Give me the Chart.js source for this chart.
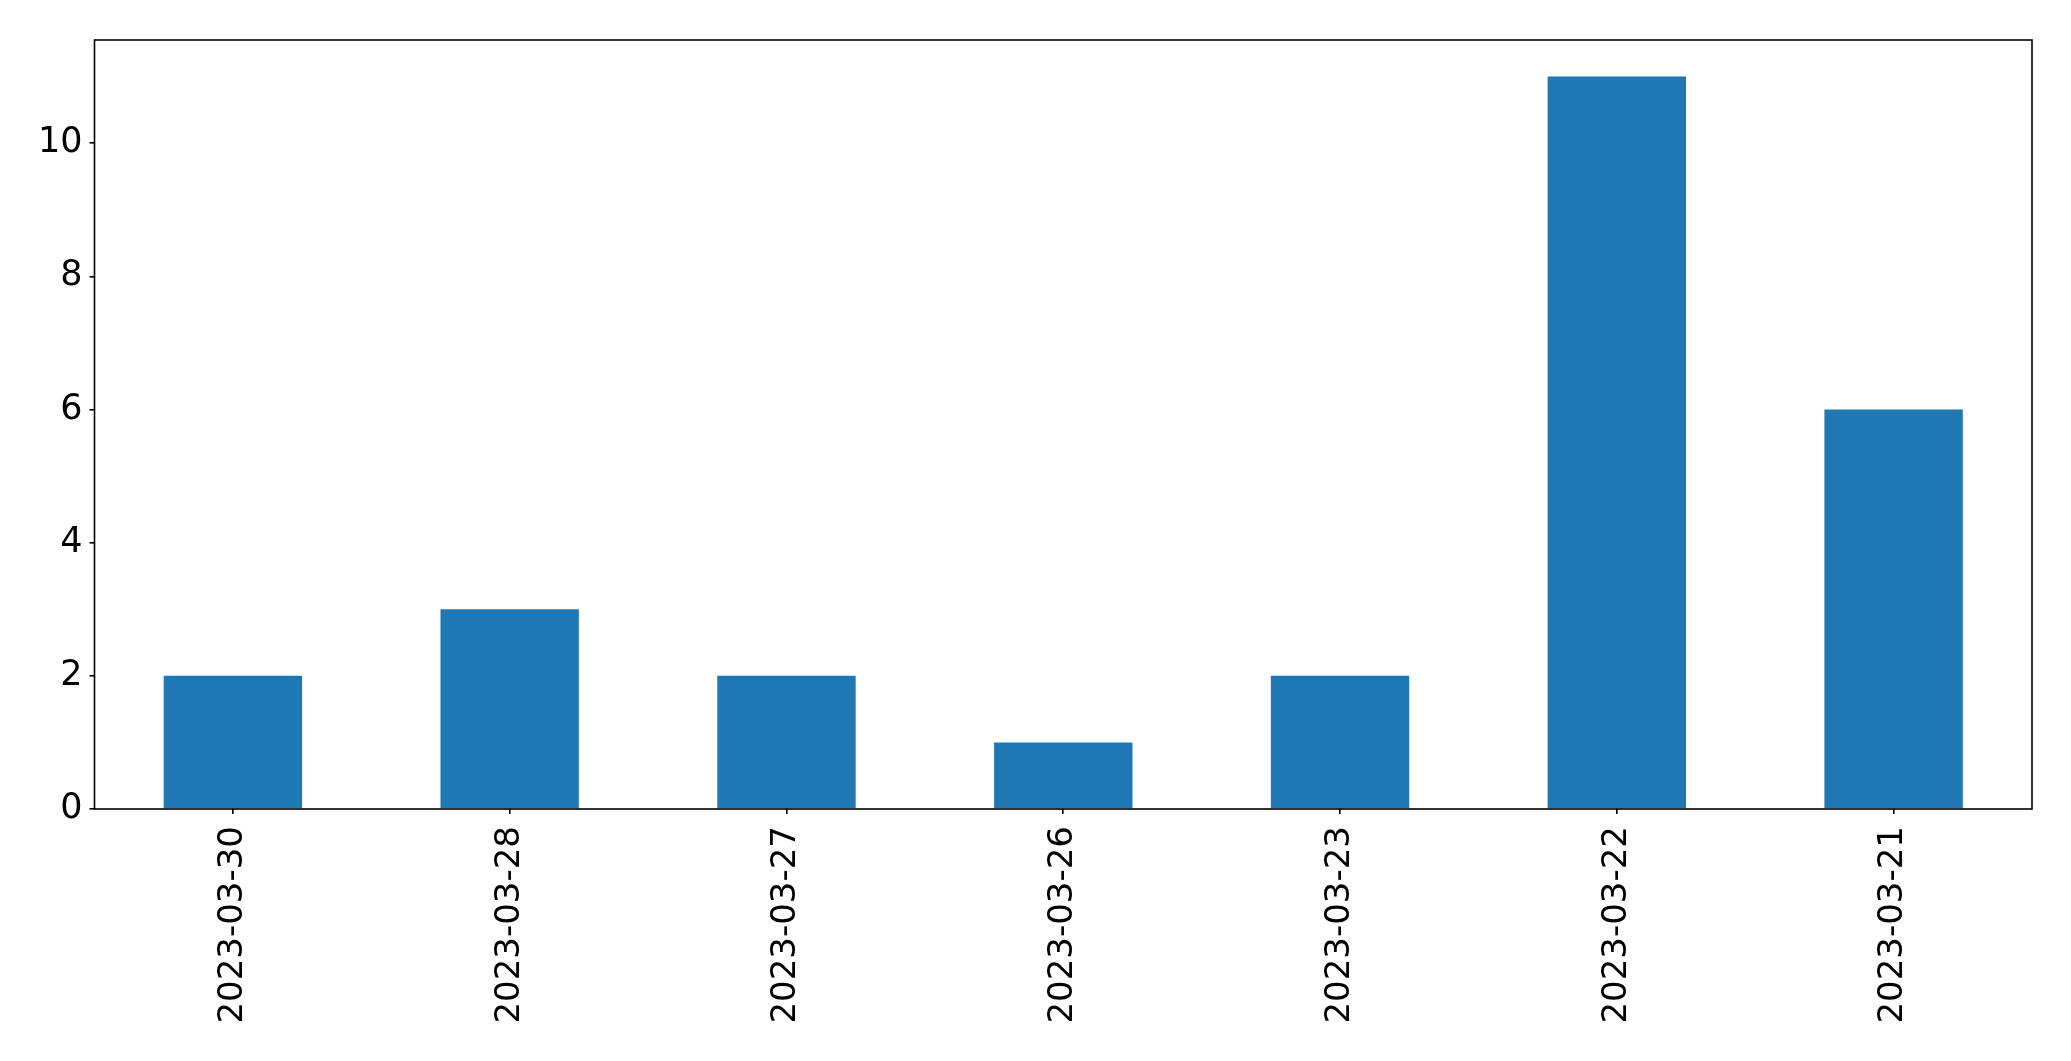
<!DOCTYPE html>
<html>
<head>
<meta charset="utf-8">
<script src="https://cdn.jsdelivr.net/npm/chart.js@4.4.1/dist/chart.umd.min.js"></script>
<style>
  html, body { margin: 0; padding: 0; background: #fff; }
  #wrap { width: 2071px; height: 1061px; }
</style>
</head>
<body>
<div id="wrap"><canvas id="meuGrafico"></canvas></div>
<script>
const dates = ['2023-03-30', '2023-03-28', '2023-03-27', '2023-03-26', '2023-03-23', '2023-03-22', '2023-03-21'];
const counts = [2, 3, 2, 1, 2, 11, 6];
const yTicks = [0, 2, 4, 6, 8, 10];

const font = { family: 'DejaVu Sans', size: 34 };

// frame round the plot area, like matplotlib's spines
const frame = {
    id: 'frame',
    afterDraw(chart) {
        const { ctx, chartArea: a } = chart;
        ctx.save();
        ctx.strokeStyle = '#000';
        ctx.lineWidth = 1.6;
        ctx.strokeRect(a.left, a.top, a.right - a.left, a.bottom - a.top);
        ctx.restore();
    }
};

const ctx = document.getElementById('meuGrafico').getContext('2d');
new Chart(ctx, {
    type: 'bar',
    data: {
        labels: dates,
        datasets: [{
            data: counts,
            backgroundColor: '#1f77b4',
            barPercentage: 0.5,
            categoryPercentage: 1
        }]
    },
    options: {
        responsive: true,
        maintainAspectRatio: false,
        animation: false,
        layout: { padding: { top: 40, right: 39, left: 0, bottom: 0 } },
        plugins: { legend: { display: false }, tooltip: { enabled: false } },
        scales: {
            x: {
                offset: true,
                grid: { display: true, offset: false, drawOnChartArea: false, tickLength: 5, color: '#000', lineWidth: 1.6 },
                border: { display: false },
                ticks: { font: font, color: '#000', minRotation: 90, maxRotation: 90, padding: 12 },
                afterFit(s) { s.height = 252; }
            },
            y: {
                min: 0,
                max: 11.55,
                grid: { display: true, drawOnChartArea: false, tickLength: 5, color: '#000', lineWidth: 1.6 },
                border: { display: false },
                afterBuildTicks(s) { s.ticks = yTicks.map(v => ({ value: v })); },
                ticks: { font: { family: 'DejaVu Sans', size: 35 }, color: '#000', padding: 7, includeBounds: false },
                afterFit(s) { s.width = 94.5; }
            }
        }
    },
    plugins: [frame]
});
</script>
</body>
</html>
